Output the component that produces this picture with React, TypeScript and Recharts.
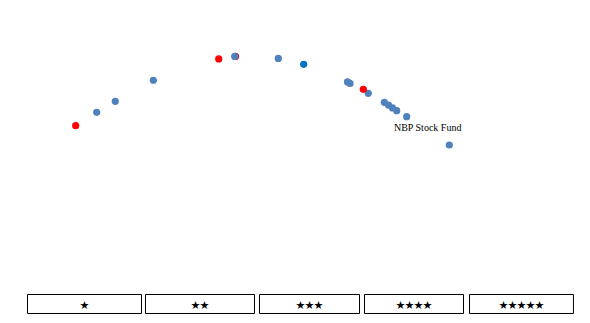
import React from 'react';
import { ScatterChart, Scatter, XAxis, YAxis, ReferenceArea, ReferenceDot } from 'recharts';

// Risk (x) and return (y) in abstract chart units
const fundRisk = [8.9, 12.74, 16.14, 23.09, 35.05, 38.12, 37.97, 45.94, 50.58, 58.59, 59.05, 62.39, 61.48, 65.32, 66.09, 66.82, 67.59, 69.41, 77.2];
const fundReturn = [66.3, 71.0, 74.9, 82.3, 89.8, 90.7, 90.7, 90.0, 87.9, 81.7, 81.2, 77.7, 79.1, 74.54, 73.56, 72.57, 71.58, 69.47, 59.5];
const fundGroup = ['index', 'peer', 'peer', 'peer', 'index', 'index', 'peer', 'peer', 'selected', 'peer', 'peer', 'peer', 'index', 'peer', 'peer', 'peer', 'peer', 'peer', 'peer'];
const fundName = ['', '', '', '', '', '', '', '', '', '', '', '', '', '', '', '', '', 'NBP Stock Fund', ''];

const ratingLabels = ['★', '★★', '★★★', '★★★★', '★★★★★'];
const ratingStart = [0.09, 21.66, 42.5, 61.7, 80.9];
const ratingEnd = [20.93, 41.59, 60.79, 79.8, 99.9];
const ratingLow = 0.18;
const ratingHigh = 6.87;

const groupColor: Record<string, string> = {
  index: '#FF0000',
  peer: '#4F81BD',
  selected: '#0070C0',
};

const points = fundRisk.map((x, i) => ({
  x,
  y: fundReturn[i],
  group: fundGroup[i],
  name: fundName[i],
}));

const labeled = points.find((p) => p.name !== '')!;

const Dot = (props: any) => {
  const { cx, cy, payload } = props;
  if (cx == null || cy == null) return null;
  return <circle cx={cx} cy={cy} r={3.6} fill={groupColor[payload.group]} />;
};

const StarLabel = (props: any) => {
  const { viewBox, text } = props;
  if (!viewBox) return null;
  return (
    <text
      x={viewBox.x + viewBox.width / 2}
      y={viewBox.y + viewBox.height / 2 + 4.5}
      textAnchor="middle"
      fontFamily="'Noto Sans CJK SC', 'DejaVu Sans'"
      fontSize={9}
      fill="#000"
    >
      {text}
    </text>
  );
};

const FundLabel = (props: any) => {
  const { viewBox, text } = props;
  if (!viewBox) return null;
  const cx = viewBox.cx != null ? viewBox.cx : viewBox.x + (viewBox.width || 0) / 2;
  const cy = viewBox.cy != null ? viewBox.cy : viewBox.y + (viewBox.height || 0) / 2;
  return (
    <text
      x={cx + 21}
      y={cy + 14.3}
      textAnchor="middle"
      fontFamily="'Liberation Serif', 'Times New Roman', serif"
      fontSize={10}
      fill="#000"
    >
      {text}
    </text>
  );
};

export default function App() {
  return (
    <ScatterChart width={590} height={323} margin={{ top: 22, right: 24, bottom: 17, left: 19 }}>
      <XAxis type="number" dataKey="x" domain={[0, 100]} hide allowDataOverflow />
      <YAxis type="number" dataKey="y" domain={[0, 100]} hide allowDataOverflow />
      {ratingLabels.map((lab, i) => (
        <ReferenceArea
          key={i}
          x1={ratingStart[i]}
          x2={ratingEnd[i]}
          y1={ratingLow}
          y2={ratingHigh}
          fill="#FFFFFF"
          fillOpacity={1}
          stroke="#000000"
          strokeWidth={1}
          label={<StarLabel text={lab} />}
        />
      ))}
      <Scatter data={points} shape={<Dot />} isAnimationActive={false} />
      <ReferenceDot
        x={labeled.x}
        y={labeled.y}
        r={0}
        fill="none"
        stroke="none"
        label={<FundLabel text={labeled.name} />}
      />
    </ScatterChart>
  );
}
